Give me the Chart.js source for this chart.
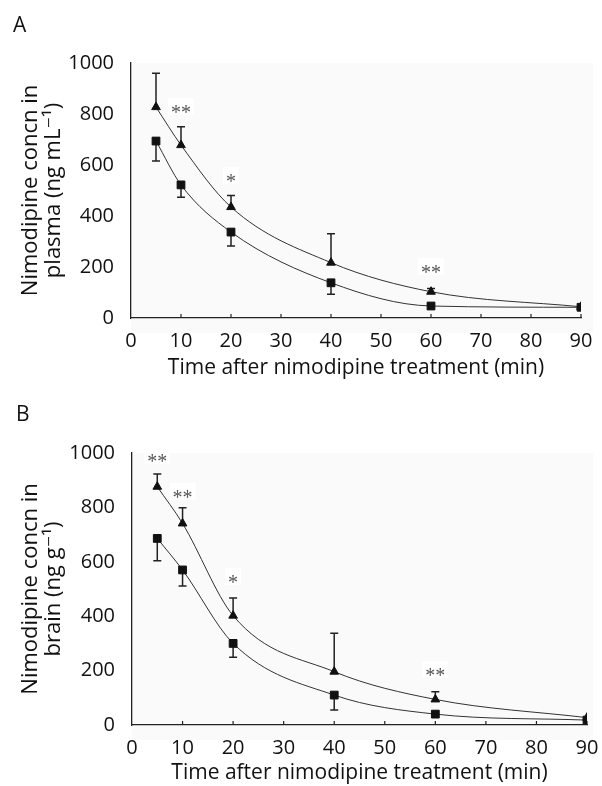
<!DOCTYPE html>
<html lang="en">
<head>
<meta charset="UTF-8">
<title>Nimodipine concentration in plasma and brain</title>
<script src="https://cdn.jsdelivr.net/npm/chart.js@4.4.0/dist/chart.umd.min.js"></script>
<style>
    html, body { margin: 0; padding: 0; background: #fff; }
    body { width: 602px; height: 786px; position: relative; overflow: hidden; font-family: 'Open Sans', sans-serif; }
    .panel { position: absolute; left: 0; width: 602px; height: 393px; }
    .letter { position: absolute; font-size: 21px; line-height: 21px; color: #111; }
</style>
</head>
<body>
<div class="panel" style="top:0"><canvas id="chartA" width="602" height="393"></canvas></div>
<div class="panel" style="top:393px"><canvas id="chartB" width="602" height="393"></canvas></div>
<div class="letter" style="left:13px; top:14px">A</div>
<div class="letter" style="left:16px; top:403px">B</div>

<script>
// sampling times (min)
const times = [5, 10, 20, 40, 60, 90];

// panel A - plasma (ng/mL)
const plasmaTriangle = [827, 678, 435, 217, 103, 44];
const plasmaTriangleSd = [133, 72, 45, 113, 13, 0];
const plasmaSquare = [694, 522, 337, 138, 47, 42];
const plasmaSquareSd = [78, 48, 55, 45, 0, 0];
const starTimesA = [10, 20, 60];
const starLevelsA = [823, 553, 196];
const starTextA = ['**', '*', '**'];

// panel B - brain (ng/g)
const brainTriangle = [876, 741, 402, 196, 94, 27];
const brainTriangleSd = [47, 58, 65, 141, 28, 0];
const brainSquare = [686, 570, 300, 110, 40, 18];
const brainSquareSd = [82, 59, 51, 55, 0, 0];
const starTimesB = [5, 10, 20, 60];
const starLevelsB = [986, 854, 540, 198];
const starTextB = ['**', '**', '*', '**'];

const FONT = "'Open Sans', 'DejaVu Sans', sans-serif";
const INK = '#111';

const panelExtras = {
    id: 'panelExtras',
    beforeDraw(chart, args, opts) {
        const { ctx, chartArea: a } = chart;
        ctx.save();
        ctx.fillStyle = '#fafafa';
        ctx.fillRect(a.left, a.top, opts.bgRight - a.left, a.bottom - a.top + 15);
        ctx.restore();
    },
    beforeDatasetsDraw(chart, args, opts) {
        const { ctx, scales: { x, y } } = chart;
        ctx.save();

        // significance marks
        ctx.font = "20px 'Liberation Serif', serif";
        ctx.textAlign = 'center';
        ctx.textBaseline = 'alphabetic';
        opts.starTimes.forEach((t, i) => {
            const px = x.getPixelForValue(t);
            const py = y.getPixelForValue(opts.starLevels[i]);
            const w = ctx.measureText(opts.starText[i]).width + 6;
            ctx.fillStyle = '#fff';
            ctx.fillRect(px - w / 2, py - 10, w, 17);
            ctx.fillStyle = '#555';
            ctx.fillText(opts.starText[i], px, py + 11);
        });

        // error bars, one side only
        ctx.strokeStyle = '#222';
        ctx.lineWidth = 1.5;
        chart.data.datasets.forEach(ds => {
            ds.data.forEach((pt, i) => {
                const sd = ds.sd[i];
                if (!sd) return;
                const px = x.getPixelForValue(pt.x);
                const p0 = y.getPixelForValue(pt.y);
                const p1 = y.getPixelForValue(pt.y + ds.errDir * sd);
                ctx.beginPath();
                ctx.moveTo(px, p0);
                ctx.lineTo(px, p1);
                ctx.moveTo(px - 4, p1);
                ctx.lineTo(px + 4, p1);
                ctx.stroke();
            });
        });

        // inner tick marks on the time axis
        ctx.lineWidth = 1.2;
        x.ticks.forEach(t => {
            if (t.value === 0) return;
            const px = x.getPixelForValue(t.value);
            ctx.beginPath();
            ctx.moveTo(px, y.bottom);
            ctx.lineTo(px, y.bottom - 4);
            ctx.stroke();
        });
        ctx.restore();
    }
};

function makePanel(id, tri, triSd, sq, sqSd, yTitle, stars, geom) {
    return new Chart(document.getElementById(id), {
        type: 'line',
        data: {
            labels: times,
            datasets: [
                {
                    data: times.map((t, i) => ({ x: t, y: sq[i] })),
                    sd: sqSd, errDir: -1,
                    borderColor: '#333', borderWidth: 1,
                    cubicInterpolationMode: 'monotone',
                    pointStyle: 'rect', pointRadius: 5.5,
                    pointBackgroundColor: INK, pointBorderColor: INK, pointBorderWidth: 1
                },
                {
                    data: times.map((t, i) => ({ x: t, y: tri[i] })),
                    sd: triSd, errDir: 1,
                    borderColor: '#333', borderWidth: 1,
                    cubicInterpolationMode: 'monotone',
                    pointStyle: 'triangle', pointRadius: 5,
                    pointBackgroundColor: INK, pointBorderColor: INK, pointBorderWidth: 1
                }
            ]
        },
        options: {
            responsive: false,
            animation: false,
            layout: { padding: { top: geom.top, right: geom.right, left: 0, bottom: 0 } },
            plugins: {
                legend: { display: false },
                tooltip: { enabled: false },
                panelExtras: { starTimes: stars[0], starLevels: stars[1], starText: stars[2], bgRight: 593 }
            },
            scales: {
                x: {
                    type: 'linear', min: 0, max: 90,
                    ticks: { stepSize: 10, padding: 3, color: INK, font: { family: FONT, size: 20 }, callback: v => String(v) },
                    grid: { display: false },
                    border: { display: true, color: '#222', width: 1.3 },
                    title: {
                        display: true, text: 'Time after nimodipine treatment (min)', color: INK,
                        font: { family: FONT, size: 21 }, padding: { top: 0, bottom: geom.titleBottom }
                    },
                    afterFit(s) { s.height = geom.xHeight; }
                },
                y: {
                    min: 0, max: 1000,
                    ticks: { stepSize: 200, padding: 9, color: INK, font: { family: FONT, size: 20 }, callback: v => String(v) },
                    grid: { display: false },
                    border: { display: true, color: '#222', width: 1.3 },
                    title: {
                        display: true, text: yTitle, color: INK,
                        font: { family: FONT, size: 22, lineHeight: 1.05 }, padding: { top: 19, bottom: 0 }
                    },
                    afterFit(s) { s.width = geom.yWidth; }
                }
            }
        },
        plugins: [panelExtras]
    });
}

makePanel('chartA', plasmaTriangle, plasmaTriangleSd, plasmaSquare, plasmaSquareSd,
    ['Nimodipine concn in', 'plasma (ng mL\u207B\u00B9)'],
    [starTimesA, starLevelsA, starTextA],
    { top: 63, right: 21, yWidth: 131, xHeight: 75, titleBottom: 12 });

makePanel('chartB', brainTriangle, brainTriangleSd, brainSquare, brainSquareSd,
    ['Nimodipine concn in', 'brain (ng g\u207B\u00B9)'],
    [starTimesB, starLevelsB, starTextB],
    { top: 60, right: 15, yWidth: 132, xHeight: 61, titleBottom: 0 });
</script>
</body>
</html>
